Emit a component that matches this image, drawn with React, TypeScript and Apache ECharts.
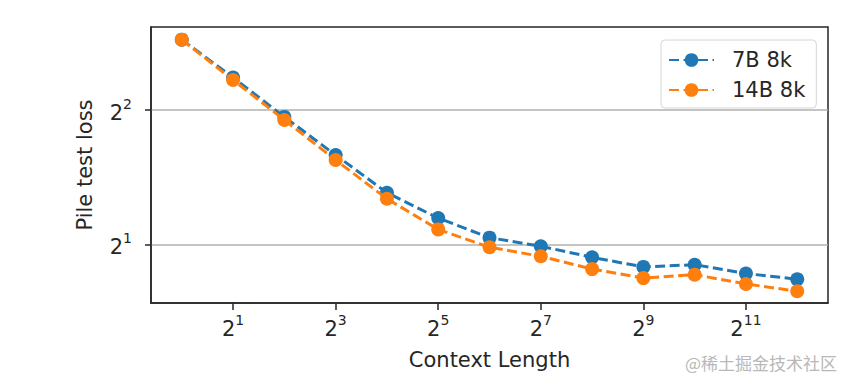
import React, { useEffect, useRef } from "react";
import * as echarts from "echarts";

const contextLengths = [1, 2, 4, 8, 16, 32, 64, 128, 256, 512, 1024, 2048, 4096];
const loss7B = [5.75, 4.73, 3.86, 3.17, 2.61, 2.29, 2.07, 1.98, 1.87, 1.78, 1.8, 1.72, 1.67];
const loss14B = [5.75, 4.67, 3.8, 3.09, 2.53, 2.16, 1.97, 1.88, 1.76, 1.68, 1.71, 1.63, 1.57];
const xTickValues = [2, 8, 32, 128, 512, 2048];
const yTickValues = [2, 4];
const seriesNames = ["7B 8k", "14B 8k"];
const seriesColors = ["#1f77b4", "#ff7f0e"];

const FONT = "DejaVu Sans";
const TEXT = "#262626";

function powLabel(v: number) {
  const e = Math.round(Math.log2(v));
  return `{b|2}{s|${e}}`;
}

const rich = {
  b: { fontSize: 21, fontFamily: FONT, color: TEXT, verticalAlign: "bottom", lineHeight: 26 },
  s: { fontSize: 14, fontFamily: FONT, color: TEXT, verticalAlign: "top", lineHeight: 8 },
};

export default function App() {
  const ref = useRef<HTMLDivElement>(null);
  useEffect(() => {
    if (!ref.current) return;
    const chart = echarts.init(ref.current, undefined, { renderer: "svg" });
    const mk = (vals: number[]) => contextLengths.map((c, i) => [c, vals[i]]);
    chart.setOption({
      animation: false,
      backgroundColor: "#ffffff",
      grid: {
        left: 151,
        right: 17,
        top: 27,
        bottom: 79,
        show: true,
        borderColor: "#262626",
        borderWidth: 1.5,
      },
      legend: {
        left: 661,
        top: 40,
        orient: "vertical",
        itemWidth: 45,
        itemHeight: 17,
        itemGap: 8,
        padding: [9, 11, 7, 7],
        backgroundColor: "#fff",
        borderColor: "#d6d6d6",
        borderWidth: 1,
        borderRadius: 4,
        textStyle: { fontSize: 21, lineHeight: 22, fontFamily: FONT, color: TEXT, padding: [0, 0, 0, 13] },
        data: seriesNames,
      },
      xAxis: {
        type: "log",
        logBase: 2,
        min: Math.pow(2, -0.6),
        max: Math.pow(2, 12.6),
        name: "Context Length",
        nameLocation: "middle",
        nameGap: 46,
        nameTextStyle: { fontSize: 21, fontFamily: FONT, color: TEXT },
        axisLine: { show: true, lineStyle: { color: "#262626", width: 1.5 } },
        axisTick: { show: true, length: 7, lineStyle: { color: "#262626", width: 1.5 }, customValues: xTickValues },
        axisLabel: { margin: 10, customValues: xTickValues, formatter: powLabel, rich },
        splitLine: { show: false },
        minorTick: { show: false },
      },
      yAxis: {
        type: "log",
        logBase: 2,
        min: Math.pow(2, 0.563),
        max: Math.pow(2, 2.618),
        name: "Pile test loss",
        nameLocation: "middle",
        nameGap: 56,
        nameTextStyle: { fontSize: 21, fontFamily: FONT, color: TEXT },
        axisLine: { show: true, lineStyle: { color: "#262626", width: 1.5 } },
        axisTick: { show: true, length: 6, lineStyle: { color: "#262626", width: 1.5 }, customValues: yTickValues },
        axisLabel: { margin: 19, customValues: yTickValues, formatter: powLabel, rich },
        splitLine: { show: true, lineStyle: { color: "#b0b0b0", width: 1.5 } },
        minorTick: { show: false },
      },
      series: [loss7B, loss14B].map((vals, i) => ({
        name: seriesNames[i],
        type: "line",
        data: mk(vals),
        symbol: "circle",
        symbolSize: 14,
        color: seriesColors[i],
        lineStyle: { color: seriesColors[i], width: 3, type: [10, 4.5] },
        itemStyle: { color: seriesColors[i] },
        z: 2 + i,
      })),
      graphic: [
        {
          type: "text",
          right: 8,
          top: 354,
          style: {
            text: "@稀土掘金技术社区",
            font: '17px "Noto Sans CJK SC"',
            fill: "#b8b8b8",
          },
        },
      ],
    });
    return () => chart.dispose();
  }, []);
  return (
    <div
      ref={ref}
      style={{ position: "fixed", left: 0, top: 0, width: 845, height: 382, background: "#fff" }}
    />
  );
}
